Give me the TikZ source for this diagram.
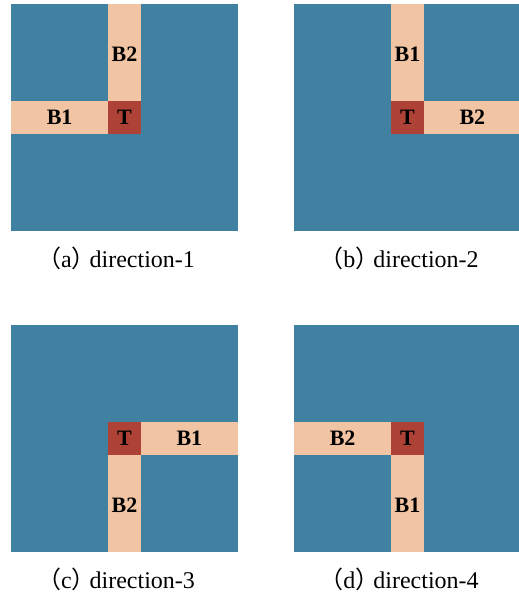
\documentclass[tikz,border=0pt]{standalone}
\usepackage{fontspec}
\setmainfont{Liberation Serif}
\newfontfamily\cjk{Noto Sans CJK SC}
\definecolor{bgblue}{RGB}{64,128,160}
\definecolor{peach}{RGB}{241,196,164}
\definecolor{tred}{RGB}{174,66,54}
\tikzset{
  panelbg/.style={fill=bgblue, draw=none},
  barfill/.style={fill=peach, draw=none},
  tfill/.style={fill=tred, draw=none},
  lbl/.style={font=\fontsize{22}{22}\selectfont\bfseries, text=black, inner sep=0pt},
  captxt/.style={font=\fontsize{24}{24}\selectfont, anchor=base, inner sep=0pt}
}
\newcommand\capparen[1]{{\cjk （}#1{\cjk ）}\kern-0.25em}
\begin{document}
\begin{tikzpicture}[x=1pt,y=-1pt]
\useasboundingbox (0,0) rectangle (519,595);
\def\c{32.43}
% ---------- panel a ----------
\begin{scope}[shift={(11,4)}]
  \fill[panelbg] (0,0) rectangle (227,227);
  \fill[barfill] (3*\c,0) rectangle (4*\c,3*\c);
  \fill[barfill] (0,3*\c) rectangle (3*\c,4*\c);
  \fill[tfill] (3*\c,3*\c) rectangle (4*\c,4*\c);
  \node[lbl] (aB2) at (3.5*\c,1.55*\c) {B2};
  \node[lbl] (aB1) at (1.5*\c,3.5*\c) {B1};
  \node[lbl] (aT) at (3.5*\c,3.5*\c) {T};
\end{scope}
% ---------- panel b ----------
\begin{scope}[shift={(294,4)}]
  \fill[panelbg] (0,0) rectangle (227,227);
  \fill[barfill] (3*\c,0) rectangle (4*\c,3*\c);
  \fill[barfill] (4*\c,3*\c) rectangle (7*\c,4*\c);
  \fill[tfill] (3*\c,3*\c) rectangle (4*\c,4*\c);
  \node[lbl] (bB1) at (3.5*\c,1.55*\c) {B1};
  \node[lbl] (bB2) at (5.5*\c,3.5*\c) {B2};
  \node[lbl] (bT) at (3.5*\c,3.5*\c) {T};
\end{scope}
% ---------- panel c ----------
\begin{scope}[shift={(11,325)}]
  \fill[panelbg] (0,0) rectangle (227,227);
  \fill[barfill] (4*\c,3*\c) rectangle (7*\c,4*\c);
  \fill[barfill] (3*\c,4*\c) rectangle (4*\c,7*\c);
  \fill[tfill] (3*\c,3*\c) rectangle (4*\c,4*\c);
  \node[lbl] (cB1) at (5.5*\c,3.5*\c) {B1};
  \node[lbl] (cB2) at (3.5*\c,5.55*\c) {B2};
  \node[lbl] (cT) at (3.5*\c,3.5*\c) {T};
\end{scope}
% ---------- panel d ----------
\begin{scope}[shift={(294,325)}]
  \fill[panelbg] (0,0) rectangle (227,227);
  \fill[barfill] (0,3*\c) rectangle (3*\c,4*\c);
  \fill[barfill] (3*\c,4*\c) rectangle (4*\c,7*\c);
  \fill[tfill] (3*\c,3*\c) rectangle (4*\c,4*\c);
  \node[lbl] (dB2) at (1.5*\c,3.5*\c) {B2};
  \node[lbl] (dB1) at (3.5*\c,5.55*\c) {B1};
  \node[lbl] (dT) at (3.5*\c,3.5*\c) {T};
\end{scope}
% ---------- captions ----------
\node[captxt] (capa) at (116,267) {\capparen{a}direction-1};
\node[captxt] (capb) at (399,267) {\capparen{b}direction-2};
\node[captxt] (capc) at (116,588) {\capparen{c}direction-3};
\node[captxt] (capd) at (399,588) {\capparen{d}direction-4};
\end{tikzpicture}
\end{document}
